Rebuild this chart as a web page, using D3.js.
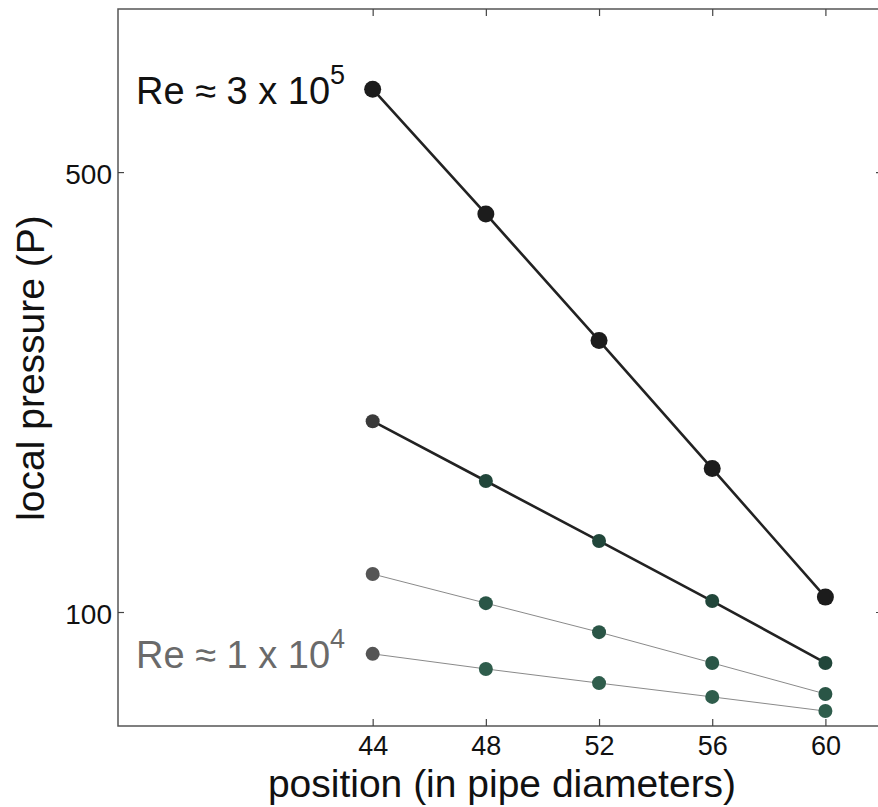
<!DOCTYPE html>
<html>
<head>
<meta charset="utf-8">
<script src="https://cdn.jsdelivr.net/npm/d3@7"></script>
<style>
  body { margin: 0; background: #fff; }
  svg text { font-family: "Liberation Sans", Arial, sans-serif; }
</style>
</head>
<body>
<svg id="chart" width="878" height="807"></svg>
<script>
// positions along the pipe (in pipe diameters)
var positions = [44, 48, 52, 56, 60];
// local pressure readings, one list per flow rate (highest Re first)
var pressureRe3e5 = [677, 429, 270, 169, 105.6];
var pressureMid1 = [201, 161.5, 129.7, 104.1, 83.0];
var pressureMid2 = [114.9, 103.3, 92.9, 83.0, 74.1];
var pressureRe1e4 = [85.8, 81.2, 77.1, 73.3, 69.6];
var yTicks = [100, 500];

var svg = d3.select("#chart");
var mLeft = 118, mRight = 882, mTop = 9, mBottom = 726;

var xScale = d3.scaleLinear().domain([35, 62]).range([mLeft, mRight]);
var yScale = d3.scaleLog().domain([65.9, 908]).range([mBottom, mTop]);

var series = [
    {vals: pressureRe3e5, lw: 2.6, line: "#222", r: 8.5, first: "#1c1c1c", rest: "#1c1c1c"},
    {vals: pressureMid1, lw: 2.6, line: "#222", r: 7, first: "#3a3a3a", rest: "#21463a"},
    {vals: pressureMid2, lw: 1, line: "#8a8a8a", r: 7, first: "#555", rest: "#2a5546"},
    {vals: pressureRe1e4, lw: 1, line: "#8a8a8a", r: 7, first: "#555", rest: "#2f5d4c"}
];

// axes box
svg.append("rect")
    .attr("x", mLeft).attr("y", mTop)
    .attr("width", mRight - mLeft).attr("height", mBottom - mTop)
    .attr("fill", "none").attr("stroke", "#555").attr("stroke-width", 1.5);

var xAxis = d3.axisBottom(xScale).tickValues(positions).tickSizeInner(-7).tickSizeOuter(0).tickPadding(10);
var gx = svg.append("g").attr("transform", "translate(0," + mBottom + ")").call(xAxis);
gx.select(".domain").remove();
gx.selectAll("line").attr("stroke", "#444").attr("stroke-width", 1.2);
gx.selectAll("text").attr("font-size", 27).attr("fill", "#111");

var gxTop = svg.append("g").attr("transform", "translate(0," + mTop + ")")
    .call(d3.axisTop(xScale).tickValues(positions).tickSizeInner(-7).tickSizeOuter(0).tickFormat(""));
gxTop.select(".domain").remove();
gxTop.selectAll("line").attr("stroke", "#444").attr("stroke-width", 1.2);

var yAxis = d3.axisLeft(yScale).tickValues(yTicks).tickFormat(d3.format("d")).tickSizeInner(-6).tickSizeOuter(0).tickPadding(6);
var gy = svg.append("g").attr("transform", "translate(" + mLeft + ",0)").call(yAxis);
gy.select(".domain").remove();
gy.selectAll("line").attr("stroke", "#444").attr("stroke-width", 1.2);
gy.selectAll("text").attr("font-size", 28).attr("fill", "#111").attr("dy", "0.4em");

var gyR = svg.append("g").attr("transform", "translate(" + mRight + ",0)")
    .call(d3.axisRight(yScale).tickValues(yTicks).tickSizeInner(-6).tickSizeOuter(0).tickFormat(""));
gyR.select(".domain").remove();
gyR.selectAll("line").attr("stroke", "#444").attr("stroke-width", 1.2);

var line = d3.line()
    .x(function (d, i) { return xScale(positions[i]); })
    .y(function (d) { return yScale(d); });

series.slice().reverse().forEach(function (s) {
    var g = svg.append("g");
    g.append("path").datum(s.vals)
        .attr("d", line)
        .attr("fill", "none")
        .attr("stroke", s.line)
        .attr("stroke-width", s.lw);
    g.selectAll("circle").data(s.vals).enter()
        .append("circle")
        .attr("cx", function (d, i) { return xScale(positions[i]); })
        .attr("cy", function (d) { return yScale(d); })
        .attr("r", s.r)
        .attr("fill", function (d, i) { return i === 0 ? s.first : s.rest; });
});

// annotations
var t1 = svg.append("text").attr("x", 136).attr("y", 104).attr("font-size", 38).attr("fill", "#111");
t1.append("tspan").text("Re \u2248 3 x 10");
t1.append("tspan").attr("dy", -20).attr("font-size", 27).text("5");

var t2 = svg.append("text").attr("x", 136).attr("y", 668).attr("font-size", 38).attr("fill", "#6a6a6a");
t2.append("tspan").text("Re \u2248 1 x 10");
t2.append("tspan").attr("dy", -20).attr("font-size", 27).text("4");

// axis titles
svg.append("text")
    .attr("x", 502).attr("y", 797)
    .attr("text-anchor", "middle")
    .attr("font-size", 39).attr("fill", "#111")
    .text("position (in pipe diameters)");

svg.append("text")
    .attr("transform", "translate(44,368) rotate(-90)")
    .attr("text-anchor", "middle")
    .attr("font-size", 39).attr("fill", "#111")
    .text("local pressure (P)");
</script>
</body>
</html>
